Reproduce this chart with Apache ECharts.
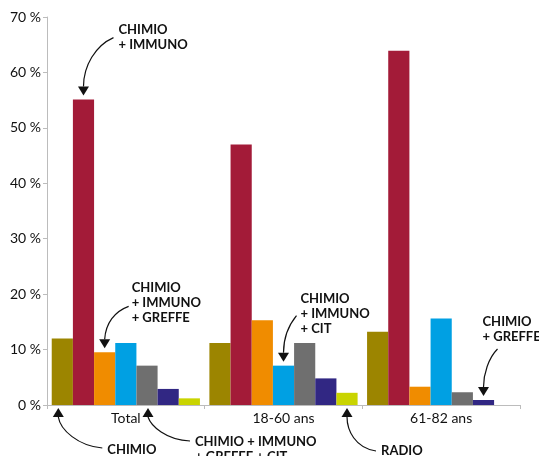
<!DOCTYPE html>
<html>
<head>
<meta charset="utf-8">
<script src="https://cdn.jsdelivr.net/npm/echarts@6/dist/echarts.min.js"></script>
<style>
  html, body { margin: 0; padding: 0; background: #fff; }
  #main { width: 539px; height: 456px; }
</style>
</head>
<body>
<div id="main"></div>
<script>
// categories and values (in %)
var categories = ['Total', '18-60 ans', '61-82 ans'];
var seriesNames = [
  'CHIMIO',
  'CHIMIO + IMMUNO',
  'CHIMIO + IMMUNO + GREFFE',
  'CHIMIO + IMMUNO + CIT',
  'CHIMIO + IMMUNO + GREFFE + CIT',
  'CHIMIO + GREFFE',
  'RADIO'
];
var chimio = [12.0, 11.2, 13.2];
var chimioImmuno = [55.1, 47.0, 63.9];
var chimioImmunoGreffe = [9.5, 15.3, 3.3];
var chimioImmunoCit = [11.2, 7.1, 15.6];
var chimioImmunoGreffeCit = [7.1, 11.2, 2.3];
var chimioGreffe = [2.9, 4.8, 0.9];
var radio = [1.2, 2.2, 0];
var seriesValues = [chimio, chimioImmuno, chimioImmunoGreffe, chimioImmunoCit,
  chimioImmunoGreffeCit, chimioGreffe, radio];
var colors = ['#9c8500', '#a31b38', '#f08c00', '#00a0e3', '#6f6f6f', '#312783', '#c9d400'];

// annotations: which bar, where the first label line sits, curve shape (offsets from arrow tip)
var notes = [
  { s: 1, c: 0, side: 'top', lines: ['CHIMIO', '+ IMMUNO'], text: [35, -66], from: [30, -58], c1: [12, -50], c2: [0, -30] },
  { s: 2, c: 0, side: 'top', lines: ['CHIMIO', '+ IMMUNO', '+ GREFFE'], text: [27, -61], from: [24, -42], c1: [10, -37], c2: [1, -25] },
  { s: 3, c: 1, side: 'top', lines: ['CHIMIO', '+ IMMUNO', '+ CIT'], text: [17, -63], from: [13, -46], c1: [4, -35], c2: [0, -22] },
  { s: 5, c: 2, side: 'top', lines: ['CHIMIO', '+ GREFFE'], text: [-1, -74], from: [14, -47], c1: [5, -38], c2: [0, -22] },
  { s: 0, c: 0, side: 'bottom', dx: -4, lines: ['CHIMIO'], text: [49, 42], from: [44, 40], c1: [20, 38], c2: [2, 22] },
  { s: 4, c: 0, side: 'bottom', dx: 1, lines: ['CHIMIO + IMMUNO', '+ GREFFE + CIT'], text: [47, 34], from: [42, 33], c1: [18, 32], c2: [3, 18] },
  { s: 6, c: 1, side: 'bottom', lines: ['RADIO'], text: [34, 43], from: [29, 43], c1: [8, 40], c2: [0, 22] }
];
var noteLineHeight = 15;

var myChart = echarts.init(document.getElementById('main'));

var series = seriesNames.map(function (name, i) {
  return {
    name: name,
    type: 'bar',
    data: seriesValues[i],
    barGap: '0%',
    barCategoryGap: '6%',
    itemStyle: { color: colors[i] }
  };
});

myChart.setOption({
  animation: false,
  textStyle: { fontFamily: 'Lato, sans-serif' },
  grid: { left: 47, right: 19, top: 17, bottom: 51 },
  xAxis: {
    type: 'category',
    data: categories,
    axisLine: { lineStyle: { color: '#bcbcbc', width: 1 } },
    axisTick: { show: true, length: 4, lineStyle: { color: '#bcbcbc' } },
    axisLabel: { color: '#111', fontSize: 14, margin: 6 }
  },
  yAxis: {
    type: 'value',
    min: 0,
    max: 70,
    interval: 10,
    axisLine: { show: true, lineStyle: { color: '#bcbcbc' } },
    axisTick: { show: true, length: 4, lineStyle: { color: '#bcbcbc' } },
    splitLine: { show: false },
    axisLabel: { color: '#111', fontSize: 14, margin: 6, formatter: '{value} %' }
  },
  series: series
});

// build curved arrows from the bars' own layout
var zeroY = myChart.convertToPixel({ yAxisIndex: 0 }, 0);
var graphics = [];
notes.forEach(function (n) {
  var layout = myChart.getModel().getSeriesByIndex(n.s).getData().getItemLayout(n.c);
  var tx = layout.x + layout.width / 2 + (n.dx || 0);
  var ty, dir;
  if (n.side === 'top') {
    ty = Math.min(layout.y, layout.y + layout.height) - 4;
    dir = -1;
  } else {
    ty = zeroY + 3;
    dir = 1;
  }
  var endY = ty + dir * 9;
  graphics.push({
    type: 'bezierCurve',
    silent: true,
    shape: {
      x1: tx + n.from[0], y1: ty + n.from[1],
      cpx1: tx + n.c1[0], cpy1: ty + n.c1[1],
      cpx2: tx + n.c2[0], cpy2: ty + n.c2[1],
      x2: tx, y2: endY
    },
    style: { stroke: '#111', lineWidth: 1.2, fill: null }
  });
  graphics.push({
    type: 'polygon',
    silent: true,
    shape: { points: [[tx, ty], [tx - 5.5, endY], [tx + 5.5, endY]] },
    style: { fill: '#111' }
  });
  graphics.push({
    type: 'text',
    silent: true,
    x: tx + n.text[0],
    y: ty + n.text[1] - noteLineHeight / 2,
    style: {
      text: n.lines.join('\n'),
      fontFamily: 'Lato, sans-serif',
      fontWeight: 'bold',
      fontSize: 13,
      lineHeight: noteLineHeight,
      fill: '#111',
      verticalAlign: 'top'
    }
  });
});
myChart.setOption({ graphic: graphics });
</script>
</body>
</html>
